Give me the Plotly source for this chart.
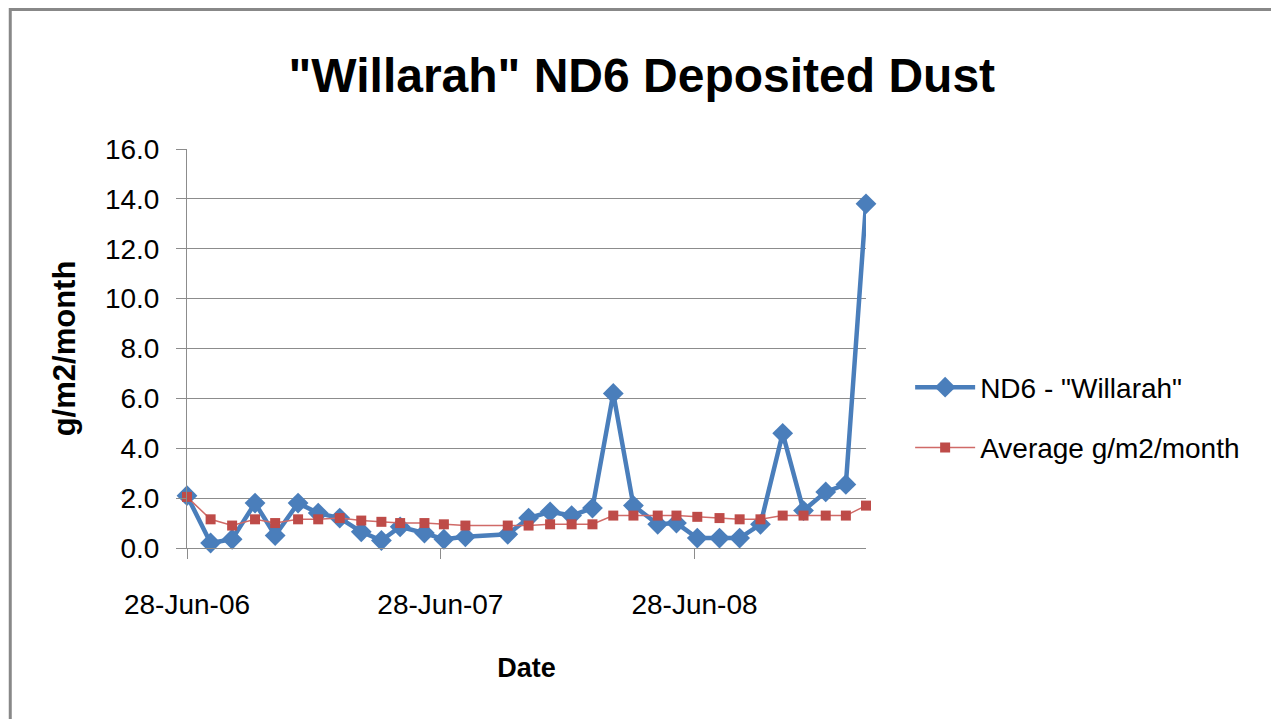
import plotly.graph_objects as go

# sample dates (roughly monthly)
dates = ['2006-06-28', '2006-08-01', '2006-09-01', '2006-10-04', '2006-11-02',
         '2006-12-05', '2007-01-03', '2007-02-03', '2007-03-06', '2007-04-04',
         '2007-05-01', '2007-06-05', '2007-07-03', '2007-08-03', '2007-10-03',
         '2007-11-02', '2007-12-03', '2008-01-03', '2008-02-02', '2008-03-03',
         '2008-04-01', '2008-05-06', '2008-06-02', '2008-07-02', '2008-08-03',
         '2008-09-01', '2008-10-01', '2008-11-02', '2008-12-02', '2009-01-03',
         '2009-02-01', '2009-03-02']

nd6 = [2.1, 0.2, 0.35, 1.8, 0.5, 1.8, 1.4, 1.2, 0.65, 0.3,
       0.85, 0.6, 0.35, 0.45, 0.55, 1.2, 1.45, 1.3, 1.6, 6.2,
       1.7, 0.95, 1.0, 0.4, 0.4, 0.4, 0.95, 4.6, 1.5, 2.25,
       2.55, 13.8]

average = [2.05, 1.15, 0.9, 1.15, 1.0, 1.15, 1.15, 1.2, 1.1, 1.05,
           1.0, 1.0, 0.95, 0.9, 0.9, 0.9, 0.95, 0.95, 0.95, 1.3,
           1.3, 1.3, 1.3, 1.25, 1.2, 1.15, 1.15, 1.3, 1.3, 1.3,
           1.3, 1.7]

x_ticks = ['2006-06-28', '2007-06-28', '2008-06-28']
x_range = ['2006-06-28', '2009-03-02']

FONT = 'Liberation Sans, Arial'
GRID = '#8c8c8c'

# page body has an 8px margin, so the figure is a bit smaller and shifted
W, H = 1271, 711
L, T, PW, PH = 178.5, 141, 680, 399
B = H - T - PH

fig = go.Figure()

fig.add_trace(go.Scatter(
    x=dates, y=nd6,
    mode='lines+markers',
    name='ND6 - "Willarah"',
    legendgroup='a',
    line=dict(color='#4a7ebb', width=4.5),
    marker=dict(symbol='diamond', size=16, color='#4a7ebb'),
    cliponaxis=False
))

fig.add_trace(go.Scatter(
    x=dates, y=average,
    mode='lines+markers',
    name='Average g/m2/month',
    legendgroup='b',
    line=dict(color='#d06a67', width=1.5),
    marker=dict(symbol='square', size=10, color='#be4b48'),
    cliponaxis=False
))

fig.update_layout(
    width=W, height=H,
    margin=dict(l=L, r=W - L - PW, t=T, b=B),
    paper_bgcolor='white',
    plot_bgcolor='white',
    font=dict(family=FONT, size=28, color='#000000'),
    title=dict(text='<b>"Willarah" ND6 Deposited Dust</b>',
               x=(642 - 8 - L) / PW, xref='paper', xanchor='center',
               y=1 - (75 - 8) / H, yanchor='middle',
               font=dict(size=48)),
    xaxis=dict(
        type='date',
        range=x_range,
        tickvals=x_ticks,
        tickformat='%d-%b-%y',
        ticks='outside', ticklen=10, tickcolor=GRID,
        showgrid=False,
        showline=True, linecolor=GRID, linewidth=1,
        ticklabelstandoff=21,
        title=dict(text='<b>Date</b>', standoff=39, font=dict(size=27)),
        zeroline=False
    ),
    yaxis=dict(
        range=[0, 16],
        dtick=2,
        tickformat='.1f',
        ticks='outside', ticklen=10, tickcolor=GRID,
        showgrid=True, gridcolor=GRID, gridwidth=1,
        showline=True, linecolor=GRID, linewidth=1,
        zeroline=False,
        ticklabelstandoff=11,
        title=dict(text='<b>g/m2/month</b>', standoff=20, font=dict(size=31))
    ),
    legend=dict(
        x=1.065, xanchor='left', y=0.465, yanchor='top',
        traceorder='grouped', tracegroupgap=21,
        itemwidth=60,
        font=dict(size=28),
        bgcolor='rgba(0,0,0,0)'
    ),
    shapes=[dict(
        type='rect', xref='paper', yref='paper',
        x0=(1.5 - L) / PW, x1=(1268.7 - L) / PW,
        y0=-(B + 20) / PH, y1=(PH + T - 1.5) / PH,
        line=dict(color='#888888', width=3),
        layer='below'
    )]
)

fig.write_html('out.html')
